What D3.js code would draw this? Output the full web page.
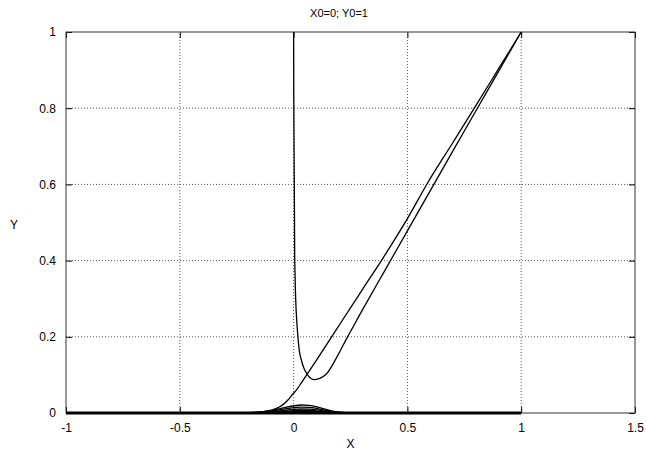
<!DOCTYPE html>
<html><head><meta charset="utf-8">
<script src="https://cdn.jsdelivr.net/npm/d3@7"></script>
<style>body{margin:0;background:#fff}svg{display:block}text{font-family:"Liberation Sans",Arial,sans-serif}</style>
</head><body><svg id="c" width="646" height="452"></svg>
<script>
const title = "X0=0; Y0=1";
const xTicks = [-1, -0.5, 0, 0.5, 1, 1.5];
const yTicks = [0, 0.2, 0.4, 0.6, 0.8, 1];
const xTickLabels = ["-1", "-0.5", "0", "0.5", "1", "1.5"];
const yTickLabels = ["0", "0.2", "0.4", "0.6", "0.8", "1"];

// smooth curve rising from the left
const curveA = [[-1,0],[-0.5,0],[-0.28,0],[-0.22,0.0006],[-0.18,0.0015],[-0.15,0.0028],[-0.12,0.005],[-0.09,0.009],[-0.065,0.015],[-0.047,0.022],[-0.025,0.034],[-0.01,0.045],[0.012,0.06],[0.035,0.08],[0.056,0.099],[0.1,0.138],[0.167,0.2],[0.25,0.276],[0.3,0.322],[0.39,0.404],[0.5,0.51],[0.588,0.603],[0.7,0.71],[0.8,0.806],[0.9,0.903],[1,1]];
// curve dropping along x=0, dipping, then rising
const curveB = [[0,1],[0.0005,0.9],[0.001,0.8],[0.002,0.7],[0.003,0.6],[0.004,0.5],[0.005,0.4],[0.008,0.32],[0.012,0.26],[0.019,0.2],[0.026,0.16],[0.034,0.139],[0.045,0.118],[0.056,0.105],[0.07,0.094],[0.085,0.088],[0.1,0.0885],[0.115,0.091],[0.13,0.096],[0.145,0.103],[0.162,0.117],[0.182,0.138],[0.204,0.162],[0.23,0.192],[0.255,0.219],[0.3,0.268],[0.4,0.373],[0.5,0.478],[0.6,0.583],[0.7,0.688],[0.8,0.792],[0.9,0.896],[1,1]];
// low bumps around x=0
const bump1 = [[-0.25,0],[-0.2,0.0005],[-0.15,0.002],[-0.1,0.006],[-0.05,0.013],[0,0.019],[0.03,0.021],[0.07,0.02],[0.11,0.015],[0.15,0.008],[0.19,0.003],[0.23,0.001],[0.28,0]];
const bump2 = [[-0.25,0],[-0.2,0.0004],[-0.15,0.0015],[-0.1,0.0045],[-0.05,0.0095],[0,0.014],[0.03,0.0155],[0.07,0.0148],[0.11,0.011],[0.15,0.006],[0.19,0.0022],[0.23,0.0007],[0.28,0]];
const bump3 = [[-0.25,0],[-0.2,0.0003],[-0.15,0.001],[-0.1,0.003],[-0.05,0.0065],[0,0.0095],[0.03,0.0105],[0.07,0.01],[0.11,0.0075],[0.15,0.004],[0.19,0.0015],[0.23,0.0005],[0.28,0]];
const bump4 = [[-0.2,0],[-0.15,0.0006],[-0.1,0.002],[-0.05,0.0042],[0,0.0062],[0.03,0.0068],[0.07,0.0065],[0.11,0.0048],[0.15,0.0026],[0.19,0.001],[0.24,0]];
const bump5 = [[-0.2,0],[-0.15,0.0003],[-0.1,0.001],[-0.05,0.0024],[0,0.0036],[0.03,0.004],[0.07,0.0038],[0.11,0.0028],[0.15,0.0015],[0.19,0.0005],[0.24,0]];
const baseline = [[-1,0],[1,0]];

const W = 646, H = 452;
const m = {l: 66, r: 11, t: 32, b: 39};
const svg = d3.select("#c");
const x = d3.scaleLinear().domain([-1, 1.5]).range([m.l, W - m.r]);
const y = d3.scaleLinear().domain([0, 1]).range([H - m.b, m.t]);

// grid
const g = svg.append("g");
g.selectAll(".gx").data(xTicks.slice(1, -1)).join("line")
  .attr("x1", d => x(d)).attr("x2", d => x(d)).attr("y1", y(0)).attr("y2", y(1))
  .attr("stroke", "#555").attr("stroke-width", 1).attr("stroke-dasharray", "1,2");
g.selectAll(".gy").data(yTicks.slice(1, -1)).join("line")
  .attr("x1", x(-1)).attr("x2", x(1.5)).attr("y1", d => y(d)).attr("y2", d => y(d))
  .attr("stroke", "#555").attr("stroke-width", 1).attr("stroke-dasharray", "1,2");

// axes with inward ticks
const xa = svg.append("g").attr("transform", `translate(0,${y(0)})`)
  .call(d3.axisBottom(x).tickValues(xTicks).tickFormat((d, i) => xTickLabels[i]).tickSize(-6).tickPadding(10));
const xt = svg.append("g").attr("transform", `translate(0,${y(1)})`)
  .call(d3.axisTop(x).tickValues(xTicks).tickFormat("").tickSize(-6));
const ya = svg.append("g").attr("transform", `translate(${x(-1)},0)`)
  .call(d3.axisLeft(y).tickValues(yTicks).tickFormat((d, i) => yTickLabels[i]).tickSize(-6).tickPadding(10));
const yr = svg.append("g").attr("transform", `translate(${x(1.5)},0)`)
  .call(d3.axisRight(y).tickValues(yTicks).tickFormat("").tickSize(-6));
[xa, xt, ya, yr].forEach(a => {
  a.select(".domain").remove();
  a.selectAll("line").attr("stroke", "#000");
  a.selectAll("text").attr("font-size", 12).attr("fill", "#000")
    .attr("font-family", '"Liberation Sans",Arial,sans-serif');
});

// frame
svg.append("rect").attr("x", x(-1)).attr("y", y(1)).attr("width", x(1.5) - x(-1)).attr("height", y(0) - y(1))
  .attr("fill", "none").attr("stroke", "#333").attr("stroke-width", 1);

// curves
const line = d3.line().x(d => x(d[0])).y(d => y(d[1])).curve(d3.curveMonotoneX);
const lineB = d3.line().x(d => x(d[0])).y(d => y(d[1])).curve(d3.curveCatmullRom.alpha(0.5));
const curves = svg.append("g").attr("fill", "none").attr("stroke", "#000").attr("stroke-width", 1.3);
[bump5, bump4, bump3, bump2, bump1].forEach(b => curves.append("path").attr("d", line(b)));
curves.append("path").attr("d", line(baseline)).attr("stroke-width", 3);
curves.append("path").attr("d", line(curveA));
curves.append("path").attr("d", lineB(curveB));

// labels
svg.append("text").attr("x", 339).attr("y", 17).attr("text-anchor", "middle").attr("font-size", 11).text(title);
svg.append("text").attr("x", (x(-1) + x(1.5)) / 2).attr("y", 448).attr("text-anchor", "middle").attr("font-size", 12).text("X");
svg.append("text").attr("x", 14).attr("y", 229).attr("text-anchor", "middle").attr("font-size", 12).text("Y");
</script></body></html>
